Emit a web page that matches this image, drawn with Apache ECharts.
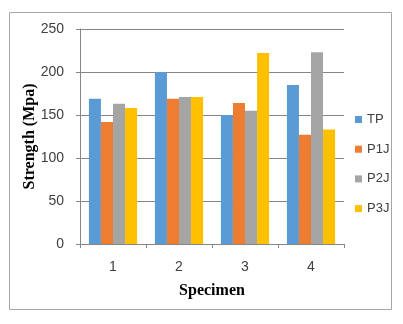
<!DOCTYPE html>
<html>
<head>
<meta charset="utf-8">
<title>Strength by specimen</title>
<script src="https://cdn.jsdelivr.net/npm/echarts@6/dist/echarts.min.js"></script>
<style>
  html, body { margin: 0; padding: 0; background: #fff; }
  #chart { width: 403px; height: 324px; }
</style>
</head>
<body>
<div id="chart"></div>
<script>
// data
var specimens = ['1', '2', '3', '4'];
var tp  = [169, 200, 150, 185];
var p1j = [142, 169, 164, 127];
var p2j = [163, 171, 155, 223];
var p3j = [158, 171, 222, 133];
var seriesNames = ['TP', 'P1J', 'P2J', 'P3J'];
var colors = ['#5B9BD5', '#ED7D31', '#A5A5A5', '#FFC000'];

var chart = echarts.init(document.getElementById('chart'));
var gridLine = '#868686';
var sans = '"Liberation Sans", Arial, sans-serif';
var serif = '"Liberation Serif", "Times New Roman", serif';

function bar(name, data, i) {
  return {
    name: name,
    type: 'bar',
    data: data,
    barGap: '0%',
    barCategoryGap: '27%',
    itemStyle: { color: colors[i] }
  };
}

var option = {
  animation: false,
  graphic: [{
    type: 'rect',
    shape: { x: 9.5, y: 12.5, width: 382, height: 297 },
    style: { fill: 'none', stroke: '#a6a6a6', lineWidth: 1 }
  }],
  grid: { left: 80, right: 59, top: 29, bottom: 80 },
  legend: {
    orient: 'vertical',
    left: 350,
    top: 107,
    icon: 'rect',
    itemWidth: 7,
    itemHeight: 7,
    itemGap: 14.7,
    textStyle: { fontFamily: sans, fontSize: 13, color: '#404040', lineHeight: 15 },
    data: seriesNames
  },
  xAxis: {
    type: 'category',
    data: specimens,
    name: 'Specimen',
    nameLocation: 'middle',
    nameGap: 39,
    nameMoveOverlap: false,
    nameTextStyle: { fontFamily: serif, fontWeight: 'bold', fontSize: 16, color: '#000' },
    axisLine: { lineStyle: { color: gridLine } },
    axisTick: { show: true, length: 4, lineStyle: { color: gridLine } },
    axisLabel: { fontFamily: sans, fontSize: 14, color: '#404040', margin: 16 }
  },
  yAxis: {
    type: 'value',
    min: 0,
    max: 250,
    interval: 50,
    name: 'Strength (Mpa)',
    nameLocation: 'middle',
    nameGap: 42,
    nameMoveOverlap: false,
    nameTextStyle: { fontFamily: serif, fontWeight: 'bold', fontSize: 16, color: '#000' },
    axisLine: { show: true, lineStyle: { color: gridLine } },
    axisTick: { show: true, length: 4, lineStyle: { color: gridLine } },
    axisLabel: { fontFamily: sans, fontSize: 14, color: '#404040', margin: 16 },
    splitLine: { lineStyle: { color: gridLine } }
  },
  series: [
    bar('TP', tp, 0),
    bar('P1J', p1j, 1),
    bar('P2J', p2j, 2),
    bar('P3J', p3j, 3)
  ]
};

chart.setOption(option);
</script>
</body>
</html>
